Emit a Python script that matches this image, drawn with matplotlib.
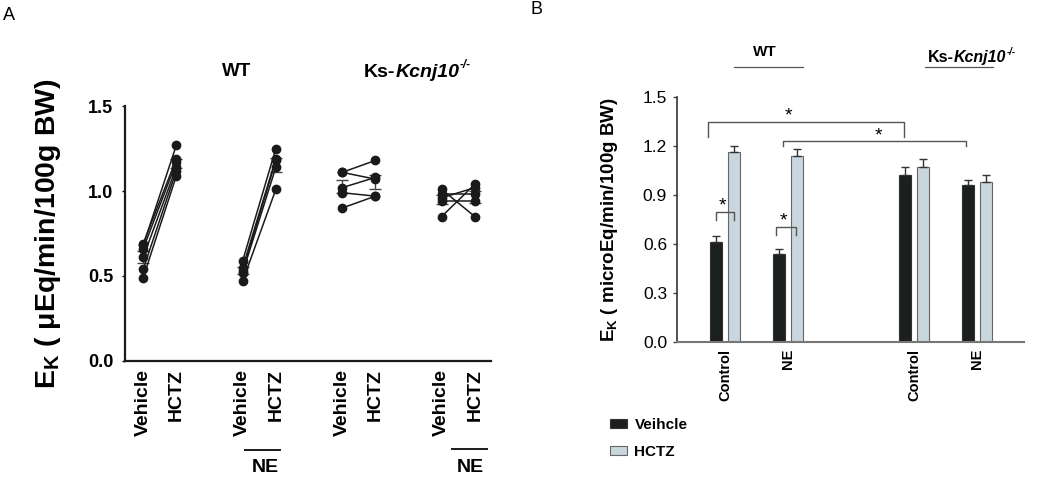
import numpy as np
import matplotlib
matplotlib.use("Agg")
from matplotlib import pyplot as plt
from matplotlib.lines import Line2D

plt.rcParams['font.family'] = ['Liberation Sans', 'DejaVu Sans']
plt.rcParams['mathtext.fontset'] = 'custom'
plt.rcParams['mathtext.rm'] = 'Liberation Sans:bold'
plt.rcParams['mathtext.bf'] = 'Liberation Sans:bold'

# ---- panel A data (paired individual animals) ----
a_labels = ['Vehicle', 'HCTZ', 'Vehicle', 'HCTZ', 'Vehicle', 'HCTZ', 'Vehicle', 'HCTZ']
a_pos = [0, 1, 3, 4, 6, 7, 9, 10]
wt_veh = [0.69, 0.68, 0.66, 0.61, 0.54, 0.49]
wt_hctz = [1.19, 1.27, 1.17, 1.14, 1.12, 1.09]
wt_ne_veh = [0.59, 0.55, 0.53, 0.52, 0.47]
wt_ne_hctz = [1.25, 1.19, 1.18, 1.14, 1.01]
ko_veh = [1.11, 1.11, 1.02, 0.99, 0.90]
ko_hctz = [1.18, 1.07, 1.08, 0.97, 0.97]
ko_ne_veh = [1.01, 0.98, 0.96, 0.94, 0.85]
ko_ne_hctz = [0.85, 0.98, 1.02, 0.94, 1.04]

# ---- panel B data (mean + SEM) ----
b_groups = ['Control', 'NE', 'Control', 'NE']
b_pos = [0, 1, 3, 4]
veh_mean = [0.61, 0.54, 1.02, 0.96]
veh_err = [0.04, 0.03, 0.05, 0.03]
hctz_mean = [1.16, 1.14, 1.07, 0.98]
hctz_err = [0.04, 0.04, 0.05, 0.04]

fig = plt.figure(figsize=(10.5, 4.8), dpi=100)
renderer = fig.canvas.get_renderer()


def genotype_label(xc, yc, size):
    # "Ks-" bold, "Kcnj10" bold italic, superscript "-/-"
    parts = [('Ks-', 'normal', size, 0), ('Kcnj10', 'italic', size, 0), ('-/-', 'italic', size * 0.6, 0.45)]
    texts = []
    for s, style, fs, dy in parts:
        t = fig.text(0, 0, s, fontsize=fs, fontweight='bold', style=style, va='baseline')
        texts.append((t, dy, fs))
    widths = [t.get_window_extent(renderer).width for t, _, _ in texts]
    total = sum(widths)
    x = xc * fig.bbox.width - total / 2
    base = yc * fig.bbox.height - size * 100 / 72 * 0.36
    for (t, dy, fs), wd in zip(texts, widths):
        t.set_position((x / fig.bbox.width, (base + dy * size * 100 / 72) / fig.bbox.height))
        x += wd


# ================= Panel A =================
axA = fig.add_axes([0.119, 0.248, 0.349, 0.531])
pairs = [(wt_veh, wt_hctz), (wt_ne_veh, wt_ne_hctz), (ko_veh, ko_hctz), (ko_ne_veh, ko_ne_hctz)]
for k, (v, h) in enumerate(pairs):
    x0, x1 = a_pos[2 * k], a_pos[2 * k + 1]
    for yv, yh in zip(v, h):
        axA.plot([x0, x1], [yv, yh], color='#1a1a1a', lw=1.1, marker='o', ms=6, zorder=3)
    for x, vals in ((x0, v), (x1, h)):
        vals = np.array(vals)
        axA.errorbar(x, vals.mean(), yerr=vals.std(ddof=1) / np.sqrt(len(vals)),
                     color='#444444', capsize=4, lw=1, zorder=2)

axA.set_xlim(-0.55, 10.5)
axA.set_ylim(0, 1.5)
axA.set_yticks([0, 0.5, 1.0, 1.5])
axA.set_yticklabels(['0.0', '0.5', '1.0', '1.5'], fontsize=13, fontweight='bold')
axA.set_xticks(a_pos)
axA.set_xticklabels(a_labels, rotation=90, fontsize=14, fontweight='bold')
axA.tick_params(axis='x', length=0, pad=6)
axA.tick_params(axis='y', length=2.5, width=1, pad=6)
for s in ['top', 'right']:
    axA.spines[s].set_visible(False)
for s in ['left', 'bottom']:
    axA.spines[s].set_linewidth(1.6)
    axA.spines[s].set_color('#1a1a1a')
axA.set_ylabel('E$_{\\mathbf{K}}$ ( \u03bcEq/min/100g BW)', fontsize=20.5, fontweight='bold', labelpad=18)

fig.text(0.003, 0.968, 'A', fontsize=13, va='center')
fig.text(237 / 1050, 1 - 72 / 480, 'WT', fontsize=13.5, fontweight='bold', ha='center', va='center')
genotype_label(417 / 1050, 1 - 70 / 480, 14)
for (xa, xb, yl, xt, yt) in [(245, 280, 450, 265, 467), (452, 487, 449, 470, 468)]:
    fig.add_artist(Line2D([xa / 1050, xb / 1050], [1 - yl / 480, 1 - yl / 480], color='#1a1a1a', lw=1.4))
    fig.text(xt / 1050, 1 - yt / 480, 'NE', fontsize=14, fontweight='bold', ha='center', va='center')

# ================= Panel B =================
axB = fig.add_axes([0.6445, 0.288, 0.331, 0.5104])
w = 0.19
off = 0.145
xv = np.array(b_pos) - off
xh = np.array(b_pos) + off
axB.bar(xv, veh_mean, w, color='#1b1f1d', edgecolor='#333333', lw=0.8,
        yerr=[np.zeros(4), veh_err], error_kw=dict(ecolor='#333333', capsize=3, lw=1), label='Veihcle')
axB.bar(xh, hctz_mean, w, color='#c9d6de', edgecolor='#666666', lw=0.8,
        yerr=[np.zeros(4), hctz_err], error_kw=dict(ecolor='#333333', capsize=3, lw=1), label='HCTZ')

axB.set_xlim(-0.77, 4.75)
axB.set_ylim(0, 1.5)
axB.set_yticks([0, 0.3, 0.6, 0.9, 1.2, 1.5])
axB.set_yticklabels(['0.0', '0.3', '0.6', '0.9', '1.2', '1.5'], fontsize=12.5)
axB.set_xticks(b_pos)
axB.set_xticklabels(b_groups, rotation=90, fontsize=10.5, fontweight='bold')
axB.tick_params(axis='x', length=0, pad=5)
axB.tick_params(axis='y', length=3, width=1, color='#444444', pad=4)
for s in ['top', 'right']:
    axB.spines[s].set_visible(False)
axB.spines['left'].set_color('#333333')
axB.spines['left'].set_linewidth(1.2)
axB.spines['bottom'].set_color('#777777')
axB.spines['bottom'].set_linewidth(1.5)
axB.set_ylabel('E$_{\\mathbf{K}}$ ( microEq/min/100g BW)', fontsize=13.5, fontweight='bold', labelpad=16)


# significance brackets
def bracket(x0, x1, y, leg, star_x, star_y):
    axB.plot([x0, x0, x1, x1], [y - leg, y, y, y - leg], color='#555555', lw=1, clip_on=False)
    axB.text(star_x, star_y, '*', fontsize=14, ha='center', va='center')


bracket(-0.27, 2.84, 1.343, 0.088, 1.0, 1.38)
bracket(0.91, 3.83, 1.229, 0.029, 2.43, 1.26)
bracket(-0.15, 0.14, 0.792, 0.047, -0.05, 0.83)
bracket(0.81, 1.12, 0.70, 0.047, 0.92, 0.74)

fig.text(530 / 1050, 1 - 9 / 480, 'B', fontsize=13, va='center')
fig.text(765 / 1050, 1 - 52 / 480, 'WT', fontsize=11, fontweight='bold', ha='center', va='center')
fig.add_artist(Line2D([734 / 1050, 803 / 1050], [1 - 67 / 480, 1 - 67 / 480], color='#555555', lw=0.9))
genotype_label(972 / 1050, 1 - 56 / 480, 11.5)
fig.add_artist(Line2D([925 / 1050, 993 / 1050], [1 - 67 / 480, 1 - 67 / 480], color='#555555', lw=0.9))

axB.legend(loc='upper left', bbox_to_anchor=(610 / 1050, 1 - 418 / 480), bbox_transform=fig.transFigure,
           frameon=False, prop=dict(weight='bold', size=11), handlelength=1.1, handleheight=0.5,
           handletextpad=0.5, labelspacing=0.85, borderpad=0, borderaxespad=0)

plt.savefig('out.png', dpi=100)
